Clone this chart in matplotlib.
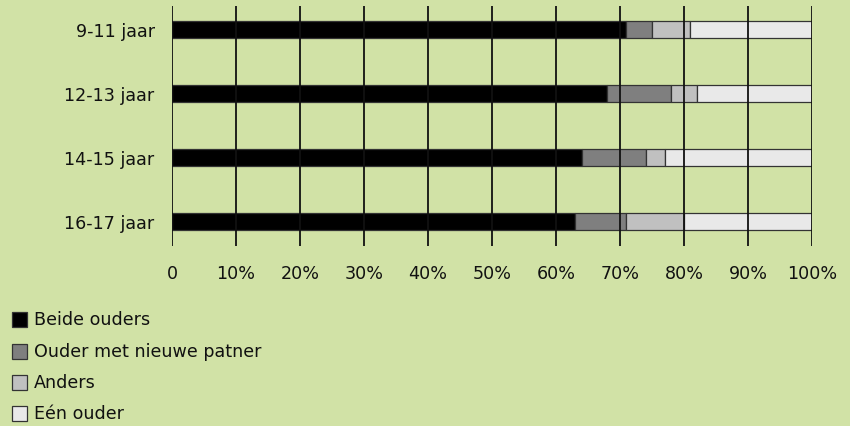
import matplotlib
matplotlib.use("Agg")
import matplotlib.pyplot as plt
from matplotlib.patches import Rectangle

categories = ["9-11 jaar", "12-13 jaar", "14-15 jaar", "16-17 jaar"]
series_names = ["Beide ouders", "Ouder met nieuwe patner", "Anders", "Eén ouder"]
beide = [71, 68, 64, 63]
nieuwe = [4, 10, 10, 8]
anders = [6, 4, 3, 9]
een = [19, 18, 23, 20]
colors = ["#000000", "#7f7f7f", "#c0c0c0", "#e9e9e9"]
xticks = [0, 10, 20, 30, 40, 50, 60, 70, 80, 90, 100]
xticklabels = ["0", "10%", "20%", "30%", "40%", "50%", "60%", "70%", "80%", "90%", "100%"]

plt.rcParams['font.family'] = ['DejaVu Sans']
bg = "#d1e2a6"
fs = 12.6

fig = plt.figure(figsize=(8.5, 4.27), dpi=100)
fig.patch.set_facecolor(bg)
W, H = 850, 427
ax = fig.add_axes([172 / W, 1 - 247 / H, 640 / W, 240 / H])
ax.set_facecolor("none")

ypos = list(range(len(categories)))
left = [0] * len(categories)
for vals, col in zip([beide, nieuwe, anders, een], colors):
    ax.barh(ypos, vals, left=left, height=0.265, color=col,
            edgecolor="#333333", linewidth=0.9, zorder=2)
    left = [l + v for l, v in zip(left, vals)]

for x in xticks:
    ax.axvline(x, color="#111111", linewidth=1.3, zorder=3)

ax.set_xlim(0, 100)
ax.set_ylim(3.39, -0.36)
ax.set_yticks(ypos)
ax.set_yticklabels(categories, fontsize=fs, color="#111111")
ax.set_xticks(xticks)
ax.set_xticklabels(xticklabels, fontsize=fs, color="#111111")
ax.tick_params(axis='y', length=0, pad=12.5)
ax.tick_params(axis='x', length=0, pad=13)
for s in ax.spines.values():
    s.set_visible(False)

# legend
ys = [320, 352, 383, 414]
for name, col, y in zip(series_names, colors, ys):
    fig.patches.append(Rectangle((12 / W, 1 - (y + 8) / H), 15 / W, 15 / H,
                                 transform=fig.transFigure, facecolor=col,
                                 edgecolor="#333333", linewidth=0.9))
    fig.text(34 / W, 1 - y / H, name, fontsize=fs, va="center", ha="left",
             color="#111111")

fig.savefig("out.png", dpi=100, facecolor=bg)
